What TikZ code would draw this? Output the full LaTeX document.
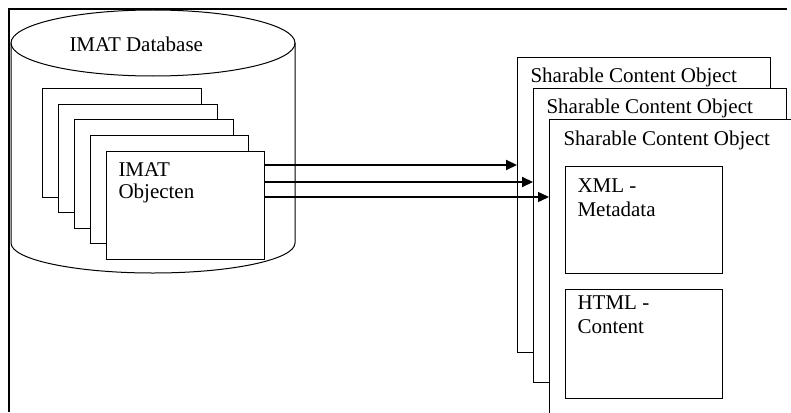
\documentclass[tikz,border=0pt]{standalone}
\usepackage{fontspec}
\setmainfont{Liberation Serif}
\usetikzlibrary{arrows.meta,calc}
\begin{document}
\begin{tikzpicture}[x=1pt,y=-1pt,
  line width=1pt,
  sheet/.style={draw=black,fill=white,line width=1pt},
  lbl/.style={font=\fontsize{21}{24}\selectfont,inner sep=0pt,anchor=base west,align=left},
  feed/.style={-{Triangle[length=11pt,width=10pt]},line width=2pt},
  feedthin/.style={-{Triangle[length=11pt,width=10pt]},line width=1.4pt}]
\clip (0,0) rectangle (791,412);
\fill[white] (0,0) rectangle (791,412);
% frame
\draw[line width=1.3pt] (787,9) -- (9,9) -- (9,412);
% database cylinder
\draw (153,43) ellipse [x radius=142, y radius=33];
\draw (11,43) -- (11,243) arc[start angle=180, end angle=0, x radius=142, y radius=30] -- (295,43);
\node[lbl] (dbl) at (69,52) {IMAT Database};
% stacked objects
\node[sheet,minimum width=159pt,minimum height=109pt,anchor=north west] (o1) at (42,88) {};
\node[sheet,minimum width=159pt,minimum height=108pt,anchor=north west] (o2) at (58,104) {};
\node[sheet,minimum width=159pt,minimum height=109pt,anchor=north west] (o3) at (74,119) {};
\node[sheet,minimum width=158pt,minimum height=108pt,anchor=north west] (o4) at (90,135) {};
\node[sheet,minimum width=158pt,minimum height=108pt,anchor=north west] (o5) at (106,151) {};
\node[lbl,font=\fontsize{21}{22}\selectfont] (ol) at (118,198) {IMAT\\Objecten};
% sharable content objects
\node[sheet,minimum width=253pt,minimum height=295pt,anchor=north west] (s1) at (517,57) {};
\node[lbl] (s1l) at (530,82) {Sharable Content Object};
\node[sheet,minimum width=253pt,minimum height=294pt,anchor=north west] (s2) at (533,88) {};
\node[lbl] (s2l) at (546,113) {Sharable Content Object};
\node[sheet,minimum width=260pt,minimum height=310pt,anchor=north west] (s3) at (549,119) {};
\node[lbl] (s3l) at (563,145) {Sharable Content Object};
\node[sheet,minimum width=157pt,minimum height=107pt,anchor=north west] (xml) at (565,166) {};
\node[lbl] (xmll) at (577,216) {XML -\\Metadata};
\node[sheet,minimum width=157pt,minimum height=109pt,anchor=north west] (html) at (565,289) {};
\node[lbl] (htmll) at (577,333) {HTML -\\Content};
% arrows
\coordinate (a1) at (o5.east |- 0,165);
\coordinate (a2) at (o5.east |- 0,182);
\coordinate (a3) at (o5.east |- 0,197);
\draw[feed] (a1) -- (a1 -| s1.west);
\draw[feed] (a2) -- (a2 -| s2.west);
\draw[feedthin] (a3) -- (a3 -| s3.west);
\end{tikzpicture}
\end{document}
